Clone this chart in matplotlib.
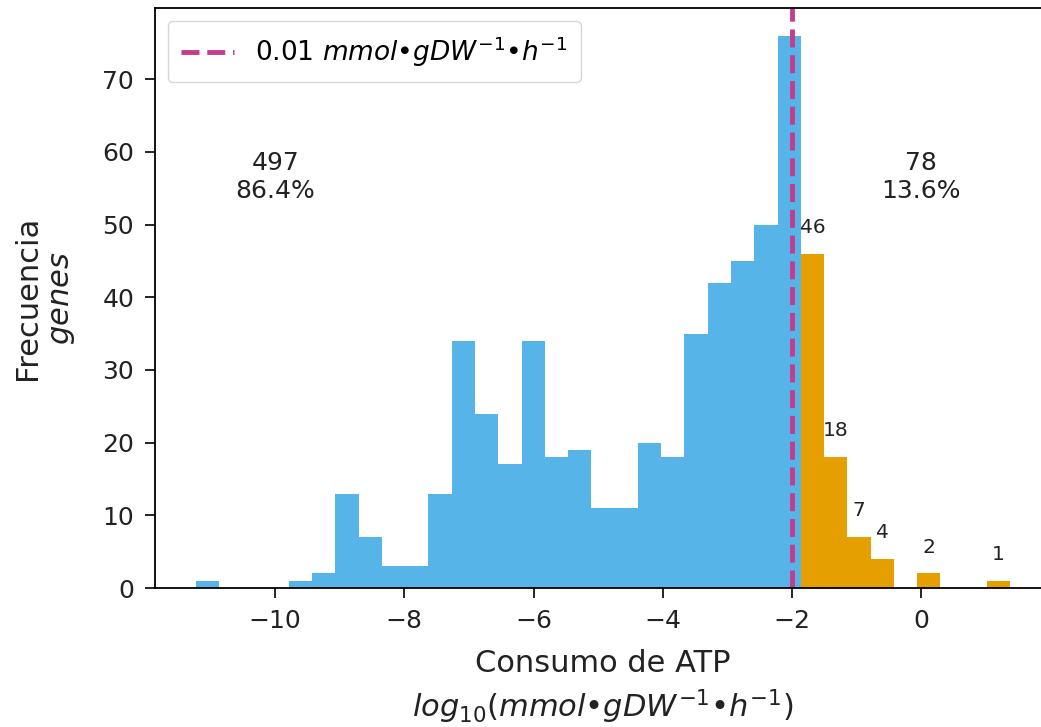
import numpy as np
import matplotlib
matplotlib.use('Agg')
import matplotlib.pyplot as plt

# histogram data (log10 of ATP consumption), 35 equal bins
x_min = -11.23
x_max = 1.38
n_bins = 35
counts = [1, 0, 0, 0, 1, 2, 13, 7, 3, 3, 13, 34, 24, 17, 34, 18, 19, 11, 11, 20,
          18, 35, 42, 45, 50, 76,
          46, 18, 7, 4, 0, 2, 0, 0, 1]
split_bin = 26  # first bin coloured orange
threshold = -2  # log10(0.01)

n_low = sum(counts[:split_bin])
n_high = sum(counts[split_bin:])
total = n_low + n_high

edges = np.linspace(x_min, x_max, n_bins + 1)
centers = (edges[:-1] + edges[1:]) / 2
counts = np.array(counts)

fig = plt.figure(figsize=(10.41, 7.27), dpi=100)
ax = fig.add_axes([155/1041, 1 - 588/727, 896/1041, 580/727])

blue = '#56B4E9'
orange = '#E69F00'
txt = '#222222'

ax.hist(centers[:split_bin], bins=edges, weights=counts[:split_bin], color=blue)
ax.hist(centers[split_bin:], bins=edges, weights=counts[split_bin:], color=orange)

ax.axvline(threshold, color='#C43C8C', linestyle='--', linewidth=3.5,
           label=r'0.01 $mmol$•$gDW^{-1}$•$h^{-1}$')

# counts above the orange bars
for c, n in zip(centers[split_bin:], counts[split_bin:]):
    if n > 0:
        ax.text(c, n + 2.3, str(n), ha='center', va='bottom', fontsize=14.5, color=txt)

ax.text(-10, 56.6, f'{n_low}\n{100*n_low/total:.1f}%', ha='center', va='center',
        fontsize=18, color=txt)
ax.text(0, 56.6, f'{n_high}\n{100*n_high/total:.1f}%', ha='center', va='center',
        fontsize=18, color=txt)

ax.set_xlim(-11.86, 2.01)
ax.set_ylim(0, 79.8)
ax.set_xticks([-10, -8, -6, -4, -2, 0])
ax.set_yticks(range(0, 80, 10))
ax.tick_params(labelsize=18, length=7, width=1.2, pad=8, labelcolor=txt)
for s in ax.spines.values():
    s.set_linewidth(1.3)

ax.set_xlabel('Consumo de ATP\n$log_{10}(mmol$•$gDW^{-1}$•$h^{-1})$', fontsize=22,
              labelpad=12, color=txt, linespacing=1.3)
ax.set_ylabel('Frecuencia\n$genes$', fontsize=22, labelpad=18, color=txt)

ax.legend(loc='upper left', fontsize=19, handlelength=2.0, borderaxespad=0.5,
          borderpad=0.5)

fig.savefig('out.png', dpi=100)
